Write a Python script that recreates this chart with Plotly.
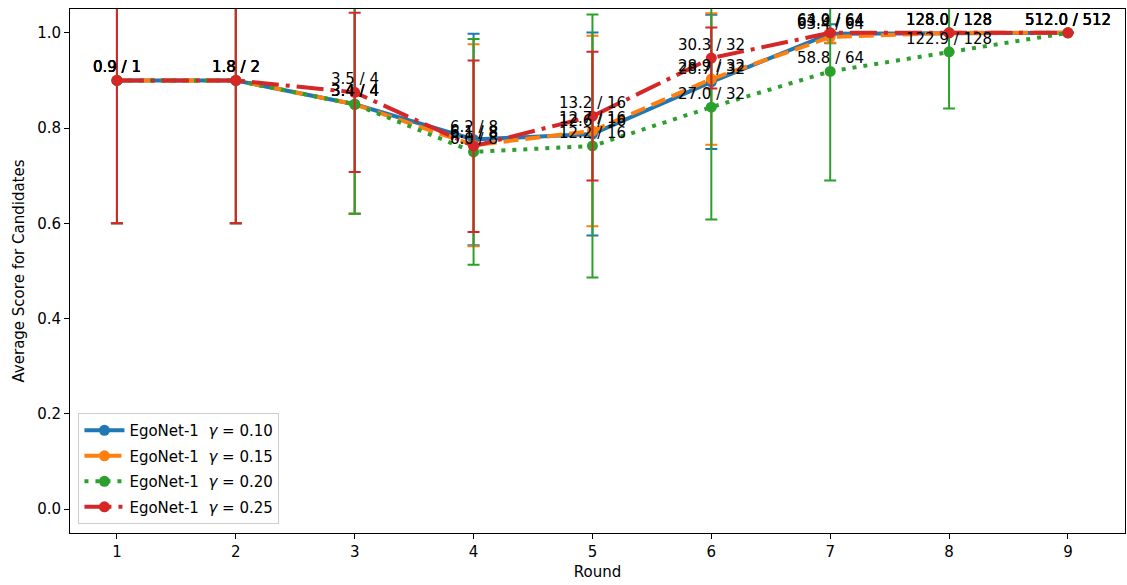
import plotly.graph_objects as go

rounds = [1, 2, 3, 4, 5, 6, 7, 8, 9]
totals = [1, 2, 4, 8, 16, 32, 64, 128, 512]

names = ["EgoNet-1  <i>γ</i> = 0.10", "EgoNet-1  <i>γ</i> = 0.15",
         "EgoNet-1  <i>γ</i> = 0.20", "EgoNet-1  <i>γ</i> = 0.25"]

score_g010 = [0.9, 0.9, 0.85, 0.776, 0.7875, 0.897, 0.998, 1.0, 1.0]
score_g015 = [0.9, 0.9, 0.85, 0.764, 0.794, 0.903, 0.991, 1.0, 1.0]
score_g020 = [0.9, 0.9, 0.85, 0.75, 0.7625, 0.844, 0.919, 0.9602, 1.0]
score_g025 = [0.9, 0.9, 0.875, 0.762, 0.825, 0.947, 1.0, 1.0, 1.0]

std_g010 = [0.3, 0.3, 0.23, 0.222, 0.213, 0.141, 0.02, 0.0, 0.0]
std_g015 = [0.3, 0.3, 0.23, 0.212, 0.2, 0.138, 0.012, 0.0, 0.0]
std_g020 = [0.3, 0.3, 0.23, 0.237, 0.276, 0.236, 0.229, 0.119, 0.0]
std_g025 = [0.3, 0.3, 0.167, 0.18, 0.135, 0.064, 0.0, 0.0, 0.0]

colors = ["#1f77b4", "#ff7f0e", "#2ca02c", "#d62728"]
dashes = ["solid", "15px,7px", "4px,7px", "27px,7px,4px,7px"]

scores = [score_g010, score_g015, score_g020, score_g025]
stds = [std_g010, std_g015, std_g020, std_g025]

fig = go.Figure()
font = "DejaVu Sans, Verdana, sans-serif"
annotations = []
for i, (name, sc, sd, col, dash) in enumerate(zip(names, scores, stds, colors, dashes)):
    fig.add_trace(go.Scatter(
        x=rounds, y=sc, name=name, mode="lines+markers", legendgroup=f"g{i}",
        line=dict(color=col, width=4, dash=dash),
        marker=dict(color=col, size=11),
        error_y=dict(type="data", array=sd, visible=True, color=col,
                     thickness=2, width=6),
    ))
    for r, v, n in zip(rounds, sc, totals):
        annotations.append(dict(
            x=r, y=v, xref="x", yref="y", text=f"{v*n:.1f} / {n}",
            showarrow=False, yanchor="middle", yshift=13,
            font=dict(family=font, size=15, color="black"),
        ))

fig.update_layout(
    width=1127, height=585,
    paper_bgcolor="white", plot_bgcolor="white",
    margin=dict(l=70, r=2, t=9, b=52),
    font=dict(family=font, size=15, color="black"),
    annotations=annotations,
    showlegend=True,
    legend=dict(x=0.008, y=0.017, xanchor="left", yanchor="bottom",
                bgcolor="rgba(255,255,255,0.8)", bordercolor="#cccccc",
                borderwidth=1, font=dict(size=15), itemwidth=40,
                tracegroupgap=3),
)
fig.update_xaxes(
    range=[0.605, 9.48], tickvals=rounds, ticktext=[str(r) for r in rounds],
    showline=True, linecolor="black", linewidth=1, mirror=True,
    ticks="outside", ticklen=5, tickcolor="black", showgrid=False,
    zeroline=False, title=dict(text="Round", font=dict(size=15), standoff=6),
)
fig.update_yaxes(
    range=[-0.05, 1.05], tickvals=[0, 0.2, 0.4, 0.6, 0.8, 1.0], tickformat=".1f",
    showline=True, linecolor="black", linewidth=1, mirror=True,
    ticks="outside", ticklen=5, tickcolor="black", showgrid=False,
    zeroline=False,
    title=dict(text="Average Score for Candidates", font=dict(size=15), standoff=8),
)
fig.write_html("out.html", config={"displayModeBar": False},
               post_script="document.body.style.margin='0';")
